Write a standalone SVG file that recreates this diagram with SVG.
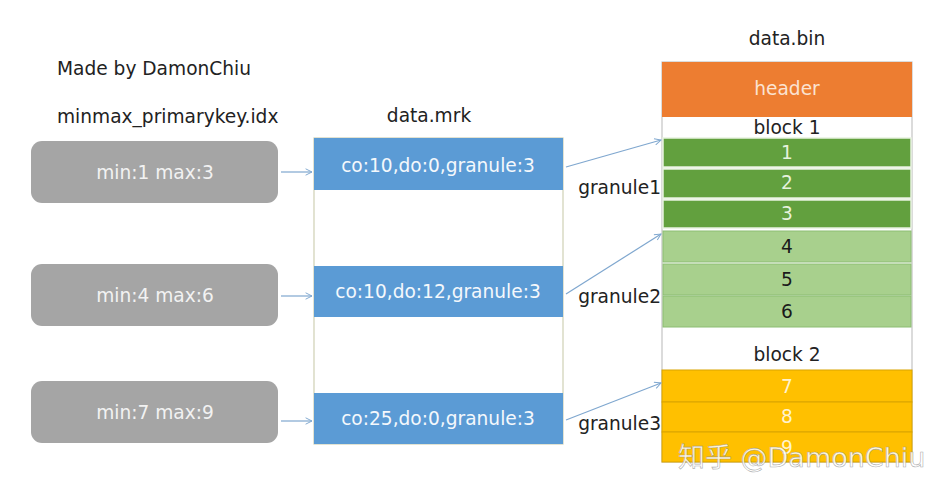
<svg xmlns="http://www.w3.org/2000/svg" width="944" height="495" viewBox="0 0 944 495">
<defs>
<marker id="ah" viewBox="0 0 10 10" refX="9" refY="5" markerWidth="8" markerHeight="8" orient="auto" markerUnits="userSpaceOnUse">
<path d="M1,1 L9,5 L1,9" fill="none" stroke="#7fa7cf" stroke-width="1.2"/>
</marker>
</defs>
<style>
text{font-family:"DejaVu Sans","Noto Sans CJK SC",sans-serif;font-size:18.6px;}
.lbl{fill:#222;}
.c{text-anchor:middle;}
.gray{fill:#a5a5a5;}
.gtxt{fill:#f2f2f2;}
.blue{fill:#5b9bd5;}
.btxt{fill:#f4f8fc;}
.dg{fill:#62a03e;stroke:#e8f2e0;stroke-width:1.5;}
.dgt{fill:#e6f2dc;}
.lg{fill:#a8d08d;stroke:#8cbd72;stroke-width:1;}
.lgt{fill:#1a1a1a;}
.yl{fill:#ffc000;stroke:#d9a400;stroke-width:1;}
.ylt{fill:#fff3cf;}
.conn{fill:none;stroke:#7fa7cf;stroke-width:1.2;marker-end:url(#ah);}
</style>
<rect width="944" height="495" fill="#ffffff"/>

<g id="titles">
<text class="lbl" x="57" y="75">Made by DamonChiu</text>
<text class="lbl" x="57" y="123">minmax_primarykey.idx</text>
<text class="lbl c" x="429" y="122">data.mrk</text>
<text class="lbl c" x="787" y="45">data.bin</text>
</g>

<g id="idx1"><rect class="gray" x="31" y="141" width="247" height="62" rx="11"/><text class="gtxt c" x="155" y="179">min:1 max:3</text></g>
<g id="idx2"><rect class="gray" x="31" y="264" width="247" height="62" rx="11"/><text class="gtxt c" x="155" y="302">min:4 max:6</text></g>
<g id="idx3"><rect class="gray" x="31" y="381" width="247" height="62" rx="11"/><text class="gtxt c" x="155" y="419">min:7 max:9</text></g>

<g id="mrk">
<rect x="314" y="138" width="249" height="306" fill="#ffffff" stroke="#cfd0b4" stroke-width="1.2"/>
<g id="mrk1"><rect class="blue" x="314" y="138" width="249" height="52"/><text class="btxt c" x="438" y="172">co:10,do:0,granule:3</text></g>
<g id="mrk2"><rect class="blue" x="314" y="266" width="249" height="51"/><text class="btxt c" x="438" y="298">co:10,do:12,granule:3</text></g>
<g id="mrk3"><rect class="blue" x="314" y="393" width="249" height="51"/><text class="btxt c" x="438" y="425">co:25,do:0,granule:3</text></g>
</g>

<g id="granule-labels">
<text class="lbl" x="661" y="194" text-anchor="end">granule1</text>
<text class="lbl" x="661" y="303" text-anchor="end">granule2</text>
<text class="lbl" x="661" y="430" text-anchor="end">granule3</text>
</g>

<g id="bin">
<rect x="662" y="62" width="250" height="400" fill="#ffffff" stroke="#c4c4c4" stroke-width="1.2"/>
<g id="header"><rect x="662" y="62" width="250" height="55" fill="#ed7d31"/><text class="c" x="787" y="95" fill="#fbe3d2">header</text></g>
<g id="block1"><text class="lbl c" x="787" y="134">block 1</text></g>
<g id="r1"><rect class="dg" x="663" y="138" width="248" height="29"/><text class="dgt c" x="787" y="159">1</text></g>
<g id="r2"><rect class="dg" x="663" y="169" width="248" height="29"/><text class="dgt c" x="787" y="189">2</text></g>
<g id="r3"><rect class="dg" x="663" y="200" width="248" height="28"/><text class="dgt c" x="787" y="220">3</text></g>
<g id="r4"><rect class="lg" x="663" y="231" width="248" height="31"/><text class="lgt c" x="787" y="253">4</text></g>
<g id="r5"><rect class="lg" x="663" y="264" width="248" height="31"/><text class="lgt c" x="787" y="286">5</text></g>
<g id="r6"><rect class="lg" x="663" y="296" width="248" height="31"/><text class="lgt c" x="787" y="318">6</text></g>
<g id="block2"><text class="lbl c" x="787" y="361">block 2</text></g>
<g id="r7"><rect class="yl" x="662" y="370" width="250" height="32"/><text class="ylt c" x="787" y="393">7</text></g>
<g id="r8"><rect class="yl" x="662" y="402" width="250" height="30"/><text class="ylt c" x="787" y="423">8</text></g>
<g id="r9"><rect class="yl" x="662" y="432" width="250" height="30"/><text class="ylt c" x="787" y="454">9</text></g>
</g>

<g id="connectors">
<line class="conn" x1="281" y1="172" x2="312" y2="172"/>
<line class="conn" x1="281" y1="296" x2="312" y2="296"/>
<line class="conn" x1="281" y1="421" x2="312" y2="421"/>
<line class="conn" x1="566" y1="167" x2="661" y2="140"/>
<line class="conn" x1="566" y1="294" x2="661" y2="234"/>
<line class="conn" x1="566" y1="420" x2="661" y2="383"/>
</g>

<g id="watermark">
<text x="678" y="467" style="font-size:27px" fill="#ffffff" fill-opacity="0.85" stroke="#8a8a8a" stroke-width="0.6" stroke-opacity="0.7">知乎 @DamonChiu</text>
</g>
</svg>
